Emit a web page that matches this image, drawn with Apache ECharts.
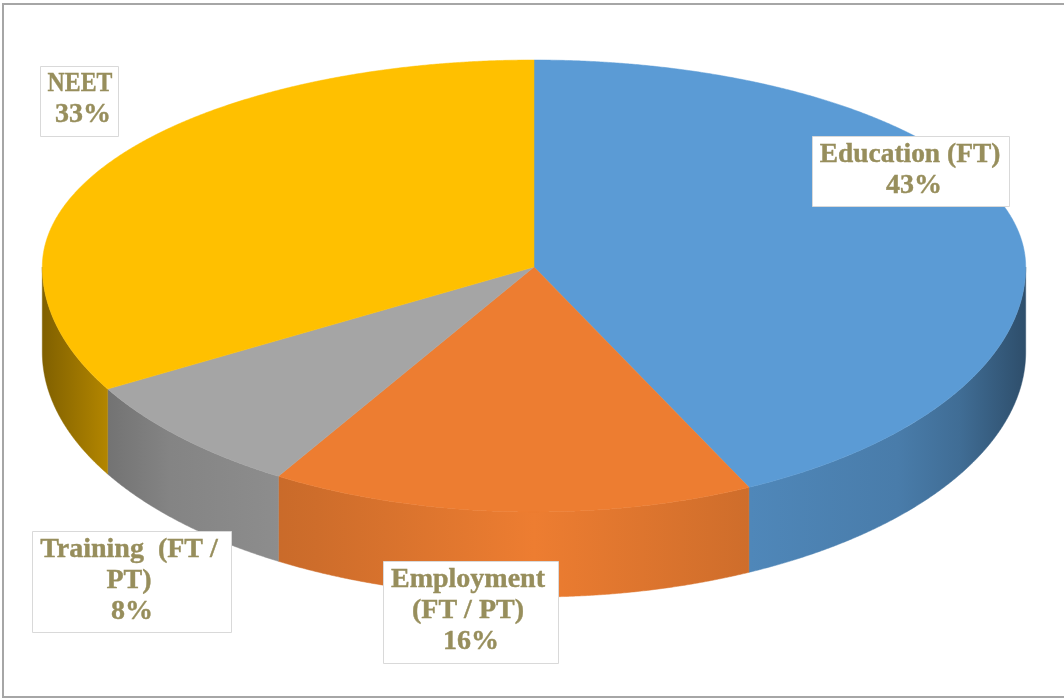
<!DOCTYPE html>
<html>
<head>
<meta charset="utf-8">
<style>html,body{margin:0;padding:0;background:#fff}#c{width:1064px;height:698px}</style>
<script src="https://cdn.jsdelivr.net/npm/echarts@6/dist/echarts.min.js"></script>
</head>
<body>
<div id="c"></div>
<script>
// Data (clockwise from 12 o'clock)
var categories = ['Education (FT)', 'Employment (FT / PT)', 'Training  (FT / PT)', 'NEET'];
var values = [42.8, 15.9, 8.0, 33.3];
var labelLines = [['Education (FT)'], ['Employment', '(FT / PT)'], ['Training  (FT /', 'PT)'], ['NEET']];
var colors = [[91, 155, 213], [237, 125, 49], [165, 165, 165], [255, 192, 0]];

// Layout of the tilted pie
var CX = 534, CY = 267, RX = 491.7, RY_BACK = 207, RY_FRONT = 245, DEPTH = 85;
var FONT = 'bold 28px "Liberation Serif", serif', TEXT = '#978e5c', LINE_H = 31;
var BOXES = [
  {x: 812.5, y: 136.5, w: 197, h: 70, cx: 910, top: 155, pctDx: 4, sx: 0.98},
  {x: 383.5, y: 561.5, w: 175, h: 102, cx: 468, top: 580, pctDx: 3, sx: 1},
  {x: 32.5, y: 531.5, w: 199, h: 101, cx: 129, top: 550, pctDx: 3, sx: 1},
  {x: 40.5, y: 66.5, w: 78, h: 70, cx: 80, top: 84, pctDx: 3, sx: 0.85}
];
// Side wall shading: distance from centre (0..1) -> brightness
var SHADE = [[0, 1], [0.44, 0.87], [0.74, 0.8], [0.866, 0.7], [1, 0.5]];

var total = values.reduce(function (a, b) { return a + b; }, 0);

function angleOf(index) {
  var s = 0;
  for (var i = 0; i < index; i++) s += values[i];
  return s / total * Math.PI * 2;
}
function rimPoint(a, dy) {
  var c = Math.cos(a);
  return [CX + RX * Math.sin(a), CY - c * (c > 0 ? RY_BACK : RY_FRONT) + (dy || 0)];
}
function arc(a0, a1, dy) {
  var n = Math.max(2, Math.ceil(Math.abs(a1 - a0) / 0.004)), pts = [];
  for (var i = 0; i <= n; i++) pts.push(rimPoint(a0 + (a1 - a0) * i / n, dy));
  return pts;
}
function rgb(c, f) {
  return 'rgb(' + c.map(function (v) { return Math.round(v * f); }).join(',') + ')';
}
function wallGradient(c) {
  var stops = [];
  SHADE.slice().reverse().forEach(function (s) { stops.push({offset: 0.5 - s[0] / 2, color: rgb(c, s[1])}); });
  SHADE.slice(1).forEach(function (s) { stops.push({offset: 0.5 + s[0] / 2, color: rgb(c, s[1])}); });
  return new echarts.graphic.LinearGradient(CX - RX, 0, CX + RX, 0, stops, true);
}

function renderSlice(params) {
  var i = params.dataIndex, a0 = angleOf(i), a1 = angleOf(i + 1), c = colors[i], children = [];
  var w0 = Math.max(a0, Math.PI / 2), w1 = Math.min(a1, Math.PI * 1.5);
  if (w1 > w0) {
    var g = wallGradient(c);
    children.push({
      type: 'polygon',
      shape: {points: arc(w0, w1, 0).concat(arc(w1, w0, DEPTH))},
      style: {fill: g, stroke: g, lineWidth: 0.5}
    });
  }
  children.push({
    type: 'polygon',
    shape: {points: [[CX, CY]].concat(arc(a0, a1, 0))},
    style: {fill: rgb(c, 1), stroke: rgb(c, 1), lineWidth: 0.5}
  });
  return {type: 'group', children: children};
}

function renderLabel(params) {
  var i = params.dataIndex, b = BOXES[i];
  var children = [{
    type: 'rect',
    shape: {x: b.x, y: b.y, width: b.w, height: b.h},
    style: {fill: '#fff', stroke: '#d9d9d9', lineWidth: 1}
  }];
  var lines = labelLines[i];
  lines.concat([Math.round(values[i] / total * 100) + '%']).forEach(function (t, k) {
    var isPct = k === lines.length;
    children.push({
      type: 'text',
      x: b.cx + (isPct ? b.pctDx : 0),
      y: b.top + k * LINE_H,
      scaleX: isPct ? 1 : b.sx,
      style: {
        text: t, x: 0, y: 0,
        font: FONT, fill: TEXT, stroke: TEXT, lineWidth: 0.4, align: 'center', verticalAlign: 'middle'
      }
    });
  });
  return {type: 'group', children: children};
}

var rows = categories.map(function (name, i) { return {name: name, value: values[i]}; });
var chart = echarts.init(document.getElementById('c'), null, {renderer: 'canvas'});
chart.setOption({
  animation: false,
  backgroundColor: '#fff',
  graphic: [{
    type: 'rect', z: 100, silent: true,
    shape: {x: 3, y: 4, width: 1100, height: 693},
    style: {fill: 'none', stroke: '#a6a6a6', lineWidth: 2}
  }],
  series: [
    {type: 'custom', coordinateSystem: 'none', silent: true, data: rows, renderItem: renderSlice, z: 1},
    {type: 'custom', coordinateSystem: 'none', silent: true, data: rows, renderItem: renderLabel, z: 2}
  ]
});
</script>
</body>
</html>
